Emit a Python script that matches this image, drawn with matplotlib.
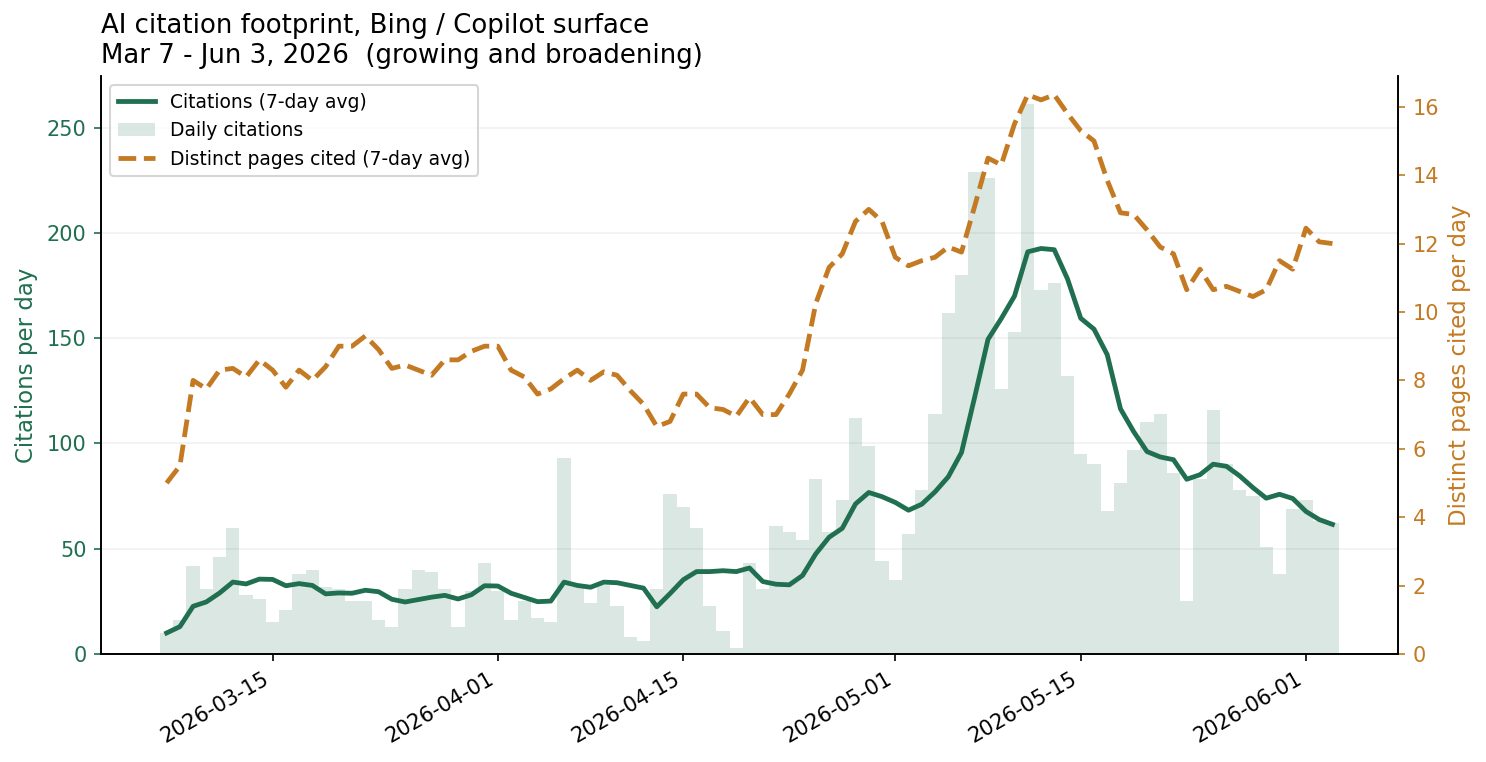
import matplotlib
matplotlib.use('Agg')
import matplotlib.pyplot as plt
import matplotlib.dates as mdates
import pandas as pd
import numpy as np

# daily citations, Mar 7 - Jun 3 2026
daily_citations = [10, 16, 42, 31, 46, 60, 28, 26, 15, 21, 38, 40, 32, 31, 25, 25, 16, 13, 31, 40, 39, 31,
                   13, 30, 43, 30, 16, 25, 17, 15, 93, 32, 24, 33, 23, 8, 6, 31, 76, 70, 60, 23, 11, 3,
                   43, 31, 61, 58, 54, 83, 58, 73, 112, 99, 44, 35, 57, 78, 114,
                   162, 180, 229, 226, 126, 153, 261, 173, 176, 132, 95, 90, 68, 81, 97, 110, 114, 86, 25, 83,
                   116, 90, 78, 75, 51, 38, 69, 73, 63, 62]

# distinct pages cited, 7-day avg
distinct_pages = [5.0, 5.5, 8.0, 7.75, 8.3, 8.35, 8.1, 8.6, 8.3, 7.8, 8.3, 8.0, 8.4, 9.0, 9.0, 9.3, 8.9, 8.35, 8.45, 8.3, 8.15, 8.6,
                  8.6, 8.85, 9.0, 9.0, 8.3, 8.1, 7.6, 7.75, 8.05, 8.3, 8.0, 8.25, 8.15, 7.7, 7.3, 6.65, 6.8, 7.6, 7.6, 7.2, 7.15, 6.95,
                  7.5, 7.0, 7.0, 7.6, 8.3, 10.25, 11.3, 11.7, 12.65, 13.0, 12.65, 11.6, 11.35, 11.5, 11.6,
                  11.9, 11.75, 13.1, 14.5, 14.3, 15.5, 16.35, 16.2, 16.35, 15.8, 15.3, 15.0, 13.85, 12.9, 12.85, 12.4, 11.9, 11.7, 10.65, 11.25,
                  10.65, 10.75, 10.6, 10.45, 10.65, 11.5, 11.25, 12.45, 12.05, 12.0]

start_date = '2026-03-07'

GREEN = '#1f6f50'
ORANGE = '#c47a22'


def main():
    dates = pd.date_range(start_date, periods=len(daily_citations), freq='D')
    df = pd.DataFrame({'daily': daily_citations, 'pages': distinct_pages}, index=dates)
    df['avg'] = df['daily'].rolling(7, min_periods=1).mean()

    fig, ax = plt.subplots(figsize=(1486 / 150, 762 / 150), dpi=150)
    ax2 = ax.twinx()

    ax.bar(df.index, df['daily'], width=1.0, color=GREEN, alpha=0.16, linewidth=0,
           label='Daily citations', zorder=1)
    ax.plot(df.index, df['avg'], color=GREEN, linewidth=2.3, label='Citations (7-day avg)', zorder=3)
    ax2.plot(df.index, df['pages'], color=ORANGE, linewidth=2.3, linestyle='--',
             label='Distinct pages cited (7-day avg)')

    ax.set_ylim(0, 274.5)
    ax2.set_ylim(0, 16.9)
    ax.set_yticks([0, 50, 100, 150, 200, 250])
    ax2.set_yticks(np.arange(0, 17, 2))

    ax.grid(axis='y', color='#e8e8e8', alpha=0.6, linewidth=0.8)
    ax.set_axisbelow(True)

    ax.set_ylabel('Citations per day', color=GREEN, fontsize=11)
    ax2.set_ylabel('Distinct pages cited per day', color=ORANGE, fontsize=11)
    ax.tick_params(axis='y', colors=GREEN)
    ax2.tick_params(axis='y', colors=ORANGE)
    for a in (ax, ax2):
        a.spines['top'].set_visible(False)
        a.spines['left'].set_color('black')
        a.spines['right'].set_color('black')
        a.spines['bottom'].set_color('black')

    ax.xaxis.set_major_locator(mdates.DayLocator(bymonthday=[1, 15]))
    ax.xaxis.set_major_formatter(mdates.DateFormatter('%Y-%m-%d'))
    for lbl in ax.get_xticklabels():
        lbl.set_rotation(30)
        lbl.set_ha('right')

    ax.set_title('AI citation footprint, Bing / Copilot surface\nMar 7 - Jun 3, 2026  (growing and broadening)',
                 loc='left', fontsize=12.5)

    h1, l1 = ax.get_legend_handles_labels()
    h2, l2 = ax2.get_legend_handles_labels()
    ax.legend(h1 + h2, l1 + l2, loc='upper left', fontsize=9)

    fig.subplots_adjust(left=0.068, right=0.9408, top=0.9003, bottom=0.1417)
    fig.savefig('out.png', dpi=150)


if __name__ == '__main__':
    main()
